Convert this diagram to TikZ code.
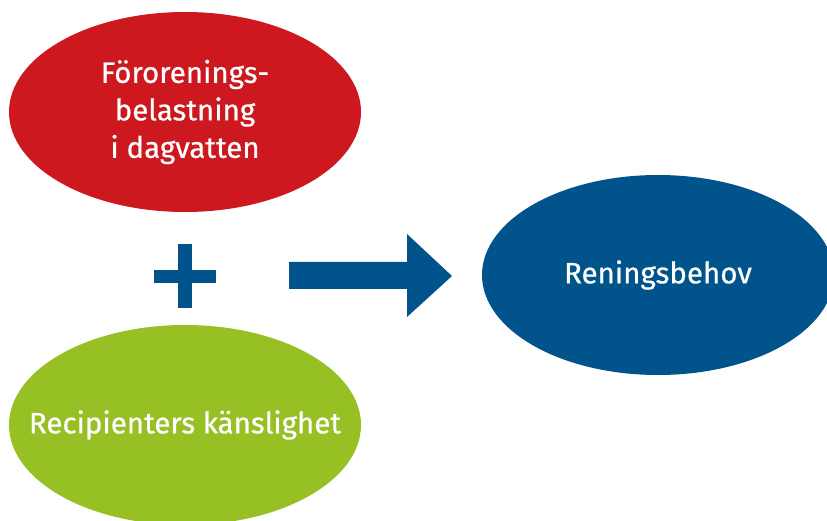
\documentclass[tikz,border=0pt]{standalone}
\usepackage{fontspec}
\setmainfont{Fira Sans}[FakeBold=0.6]
\usetikzlibrary{shapes.geometric}

\definecolor{rouge}{HTML}{CC181E}
\definecolor{vert}{HTML}{97C024}
\definecolor{bleu}{HTML}{00538B}

\tikzset{
  bulle/.style={ellipse, inner sep=0pt, minimum width=352pt, minimum height=200pt,
    text=white, align=center, font=\fontsize{29.5}{37.5}\selectfont}
}

\begin{document}
\begin{tikzpicture}[x=1pt,y=1pt]

% Cadre de l'image
\useasboundingbox (0,0) rectangle (827,520);
\clip (0,0) rectangle (827,520);

% Les trois ellipses
\node[bulle, fill=rouge] (charge) at (185,408) {Förorenings-\\belastning\\i dagvatten};
\node[bulle, fill=vert, inner xsep=-40pt] (recipient) at (185,95) {Recipienters känslighet};
\node[bulle, fill=bleu] (behov) at (658,245) {Reningsbehov};

% Signe plus
\fill[bleu] (178,212) rectangle (192,276);
\fill[bleu] (154,237) rectangle (216,250);

% Grosse fleche
\fill[bleu] (289,231) -- (407,231) -- (407,286) -- (452,244) -- (407,203) -- (407,258) -- (289,258) -- cycle;

\end{tikzpicture}
\end{document}
